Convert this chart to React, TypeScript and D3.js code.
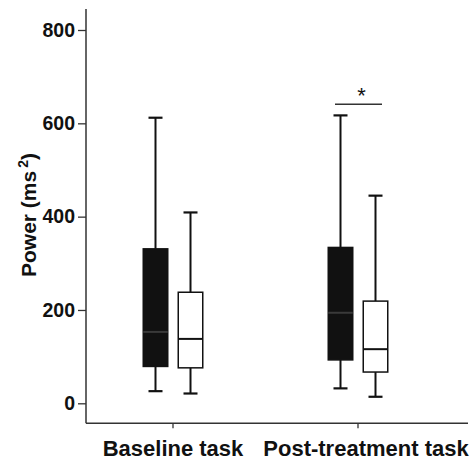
import * as d3 from 'd3';
import { useEffect, useRef } from 'react';

// tasks along the x axis
const categories = ['Baseline task', 'Post-treatment task'];
// two groups drawn side by side in each task
const groups = ['filled', 'open'];

// box stats per task: [min, q1, median, q3, max]
const filledStats = [
    [26, 79, 153, 331, 612],
    [32, 93, 194, 334, 617],
];
const openStats = [
    [21, 76, 138, 238, 409],
    [14, 67, 116, 219, 445],
];

const yTicks = [0, 200, 400, 600, 800];
const sigLevel = 641;

const App = () => {
    const svgRef = useRef(null);

    useEffect(() => {
        const svg = d3.select(svgRef.current);
        svg.selectAll('*').remove();

        const font = 'Liberation Sans, Arial, sans-serif';

        // scales
        const yScale = d3.scaleLinear().domain([0, 800]).range([403.3, 30]);
        const xScale = d3.scalePoint().domain(categories).range([80.5, 450.5]).padding(0.5);
        const offset = d3.scalePoint().domain(groups).range([-17.5, 17.5]);
        const boxW = 24.5;
        const capW = 14;

        const axisX = 86;
        const axisBottom = 423.3;

        // y axis
        const yAxis = d3.axisLeft(yScale).tickValues(yTicks).tickSize(8).tickPadding(3).tickSizeOuter(0);
        const gy = svg.append('g').attr('transform', `translate(${axisX},0)`).call(yAxis);
        gy.select('.domain').remove();
        gy.selectAll('line').attr('stroke', '#333').attr('stroke-width', 1.3);
        gy.selectAll('text')
            .attr('font-family', font)
            .attr('font-weight', 'bold')
            .attr('font-size', 19.5)
            .attr('fill', '#111');

        svg.append('line')
            .attr('x1', axisX).attr('x2', axisX)
            .attr('y1', 9).attr('y2', axisBottom)
            .attr('stroke', '#333').attr('stroke-width', 1.5);

        // x axis
        svg.append('line')
            .attr('x1', axisX).attr('x2', 468)
            .attr('y1', axisBottom).attr('y2', axisBottom)
            .attr('stroke', '#333').attr('stroke-width', 1.5);

        categories.forEach((c, i) => {
            const cx = xScale(c);
            svg.append('line')
                .attr('x1', cx).attr('x2', cx)
                .attr('y1', axisBottom).attr('y2', axisBottom + 5)
                .attr('stroke', '#333').attr('stroke-width', 1.3);
            svg.append('text')
                .attr('x', cx + (i === 1 ? 8 : 0))
                .attr('y', 455.5)
                .attr('text-anchor', 'middle')
                .attr('font-family', font)
                .attr('font-weight', 'bold')
                .attr('font-size', 22)
                .attr('fill', '#111')
                .text(c);
        });

        // y label
        const ylab = svg.append('text')
            .attr('transform', 'translate(36,215) rotate(-90)')
            .attr('text-anchor', 'middle')
            .attr('font-family', font)
            .attr('font-weight', 'bold')
            .attr('font-size', 21)
            .attr('fill', '#111');
        ylab.append('tspan').text('Power (ms');
        ylab.append('tspan').attr('dx', 3).attr('dy', -8).attr('font-size', 14).text('2');
        ylab.append('tspan').attr('dy', 8).text(')');

        // boxes
        const drawBox = (cx, s, fill) => {
            const [mn, q1, med, q3, mx] = s;
            const g = svg.append('g');
            g.append('line')
                .attr('x1', cx).attr('x2', cx)
                .attr('y1', yScale(mx)).attr('y2', yScale(q3))
                .attr('stroke', '#111').attr('stroke-width', 2);
            g.append('line')
                .attr('x1', cx).attr('x2', cx)
                .attr('y1', yScale(q1)).attr('y2', yScale(mn))
                .attr('stroke', '#111').attr('stroke-width', 2);
            [mn, mx].forEach(v => {
                g.append('line')
                    .attr('x1', cx - capW / 2).attr('x2', cx + capW / 2)
                    .attr('y1', yScale(v)).attr('y2', yScale(v))
                    .attr('stroke', '#111').attr('stroke-width', 2.2);
            });
            g.append('rect')
                .attr('x', cx - boxW / 2)
                .attr('y', yScale(q3))
                .attr('width', boxW)
                .attr('height', yScale(q1) - yScale(q3))
                .attr('fill', fill)
                .attr('stroke', '#111')
                .attr('stroke-width', 1.5);
            g.append('line')
                .attr('x1', cx - boxW / 2).attr('x2', cx + boxW / 2)
                .attr('y1', yScale(med)).attr('y2', yScale(med))
                .attr('stroke', fill === '#fff' ? '#111' : '#3a3a3a')
                .attr('stroke-width', 2);
        };

        categories.forEach((c, i) => {
            drawBox(xScale(c) + offset('filled'), filledStats[i], '#111');
            drawBox(xScale(c) + offset('open'), openStats[i], '#fff');
        });

        // significance marker on post-treatment
        const pc = xScale(categories[1]);
        svg.append('line')
            .attr('x1', pc - 23).attr('x2', pc + 24)
            .attr('y1', yScale(sigLevel)).attr('y2', yScale(sigLevel))
            .attr('stroke', '#333').attr('stroke-width', 1.5);
        svg.append('text')
            .attr('x', pc + 3.5)
            .attr('y', yScale(sigLevel) - 1)
            .attr('text-anchor', 'middle')
            .attr('font-family', font)
            .attr('font-size', 22)
            .attr('fill', '#111')
            .text('*');
    }, []);

    return (
        <svg ref={svgRef} width="475" height="462"
            style={{ position: 'absolute', left: 0, top: 0, background: '#fff' }}></svg>
    );
};

export default App;
